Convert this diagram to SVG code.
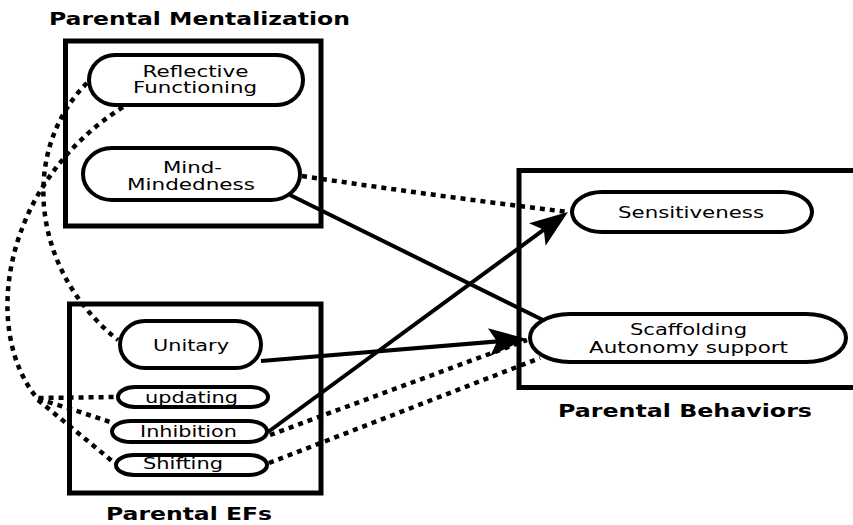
<svg xmlns="http://www.w3.org/2000/svg" width="853" height="525" viewBox="0 0 853 525">
<style>
.box{fill:none;stroke:#000;stroke-width:5}
.pill{fill:#fff;stroke:#000;stroke-width:4}
.lbl{font-family:"DejaVu Sans","Liberation Sans",sans-serif;font-size:15px;fill:#000;text-anchor:middle}
.ttl{font-family:"DejaVu Sans","Liberation Sans",sans-serif;font-size:17px;font-weight:bold;fill:#000;text-anchor:middle}
.solid{fill:none;stroke:#000;stroke-width:4}
.dot{fill:none;stroke:#000;stroke-width:4.5;stroke-dasharray:5 5}
</style>
<defs>
<marker id="arr" markerUnits="userSpaceOnUse" markerWidth="42" markerHeight="32" refX="30" refY="16" orient="auto" overflow="visible">
<path d="M40,16 L2,2 L10,16 L2,30 Z" fill="#000"/>
</marker>
</defs>
<rect width="853" height="525" fill="#fff"/>

<g id="connectors">
<path class="dot" d="M302,176 Q436,196 568,212"/>
<path class="solid" d="M290,195 L545,321"/>
<path class="dot" d="M270,435 L527,340"/>
<path class="dot" d="M269,463 L540,358"/>
<path class="solid" d="M261,361 L517,339.8" marker-end="url(#arr)"/>
<path class="solid" d="M268,432 L559.9,217.9" marker-end="url(#arr)"/>
<path class="dot" d="M87,83 C20,150 30,270 118,340"/>
<path class="dot" d="M123,107 C0,185 -18,332 37,398 L117,397"/>
<path class="dot" d="M38,399 Q75,410 110,422"/>
<path class="dot" d="M38,400 L112,461"/>
</g>

<g id="parental-mentalization">
<rect class="box" x="65.5" y="41" width="255.5" height="185"/>
<text class="ttl" x="199.5" y="25.3" textLength="301" lengthAdjust="spacingAndGlyphs">Parental Mentalization</text>
</g>
<g id="reflective-functioning">
<rect class="pill" x="89" y="55" width="214" height="50" rx="26" ry="25"/>
<text class="lbl" x="195.5" y="76.7" textLength="106" lengthAdjust="spacingAndGlyphs">Reflective</text>
<text class="lbl" x="195" y="93.3" textLength="124" lengthAdjust="spacingAndGlyphs">Functioning</text>
</g>
<g id="mind-mindedness">
<rect class="pill" x="83" y="148" width="217" height="52" rx="29" ry="26"/>
<text class="lbl" x="192.5" y="172.7" textLength="59" lengthAdjust="spacingAndGlyphs">Mind-</text>
<text class="lbl" x="191" y="190" textLength="128" lengthAdjust="spacingAndGlyphs">Mindedness</text>
</g>

<g id="parental-efs">
<rect class="box" x="69.5" y="304" width="251.5" height="189"/>
<text class="ttl" x="189" y="520" textLength="166" lengthAdjust="spacingAndGlyphs">Parental EFs</text>
</g>
<g id="unitary">
<rect class="pill" x="120" y="321" width="141" height="47" rx="25" ry="23.5"/>
<text class="lbl" x="191" y="350.7" textLength="76" lengthAdjust="spacingAndGlyphs">Unitary</text>
</g>
<g id="updating">
<rect class="pill" x="118" y="387" width="150" height="20" rx="17" ry="10"/>
<text class="lbl" x="191.5" y="402.7" textLength="93" lengthAdjust="spacingAndGlyphs">updating</text>
</g>
<g id="inhibition">
<rect class="pill" x="112" y="421" width="155" height="21" rx="19" ry="10.5"/>
<text class="lbl" x="188.5" y="436.7" textLength="97" lengthAdjust="spacingAndGlyphs">Inhibition</text>
</g>
<g id="shifting">
<rect class="pill" x="116" y="455" width="151" height="20" rx="18" ry="10"/>
<text class="lbl" x="183" y="469.3" textLength="80" lengthAdjust="spacingAndGlyphs">Shifting</text>
</g>

<g id="parental-behaviors">
<rect class="box" x="519" y="170.5" width="360" height="217"/>
<text class="ttl" x="685" y="416.7" textLength="254" lengthAdjust="spacingAndGlyphs">Parental Behaviors</text>
</g>
<g id="sensitiveness">
<rect class="pill" x="572" y="192" width="240" height="40" rx="30" ry="20"/>
<text class="lbl" x="691" y="217.7" textLength="146" lengthAdjust="spacingAndGlyphs">Sensitiveness</text>
</g>
<g id="scaffolding">
<rect class="pill" x="530" y="314" width="316" height="48" rx="40" ry="24"/>
<text class="lbl" x="688.5" y="335" textLength="117" lengthAdjust="spacingAndGlyphs">Scaffolding</text>
<text class="lbl" x="688.5" y="353.3" textLength="199" lengthAdjust="spacingAndGlyphs">Autonomy support</text>
</g>
</svg>
